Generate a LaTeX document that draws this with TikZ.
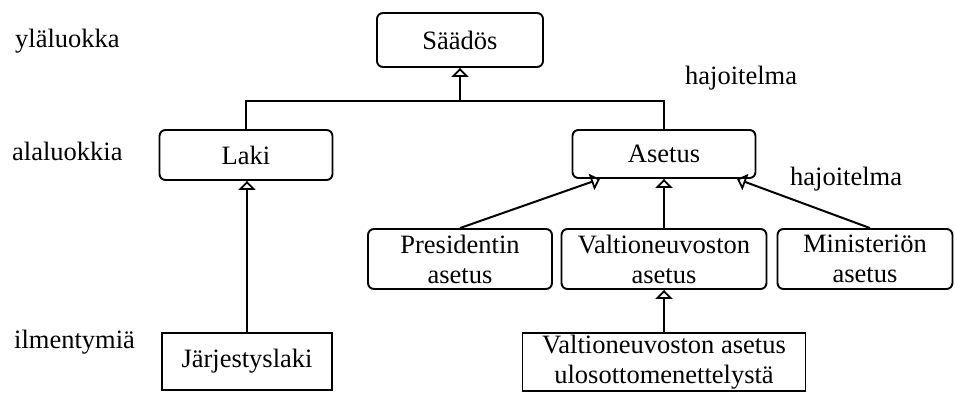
\documentclass[tikz,border=0pt]{standalone}
\usepackage{fontspec}
\setmainfont{Liberation Serif}
\usetikzlibrary{arrows.meta,calc}

\tikzset{
  umlbox/.style={draw, line width=1.9pt, rounded corners=6pt, inner sep=0pt,
    align=center, font=\fontsize{26.5}{30}\selectfont},
  instbox/.style={umlbox, rounded corners=0pt},
  lbl/.style={anchor=base west, inner sep=0pt, font=\fontsize{26.5}{30}\selectfont},
  link/.style={line width=2pt},
  gen/.style={link, -{Triangle[open, width=17pt, length=9pt, line width=1.8pt]}}
}

\begin{document}
\begin{tikzpicture}[x=1pt, y=-1pt]
\useasboundingbox (0,0) rectangle (955,397);

% class hierarchy
\node[umlbox, minimum width=166pt, minimum height=54pt] (saados) at (460,40) {Säädös};
\node[umlbox, minimum width=173pt, minimum height=50pt] (laki) at (246,155) {Laki};
\node[umlbox, minimum width=183pt, minimum height=48pt] (asetus) at (664,154) {Asetus};
\node[umlbox, minimum width=184pt, minimum height=60pt] (pres) at (460,259) {Presidentin\\asetus};
\node[umlbox, minimum width=205pt, minimum height=60pt] (valt) at (664,259) {Valtioneuvoston\\asetus};
\node[umlbox, minimum width=175pt, minimum height=60pt] (mini) at (865,259) {Ministeriön\\asetus};

% instances
\node[instbox, minimum width=170pt, minimum height=57pt] (jarj) at (247,361.5) {Järjestyslaki};
\node[instbox, minimum width=283pt, minimum height=58pt] (ulos) at (664,362) {Valtioneuvoston asetus\\ulosottomenettelystä};

% level labels
\node[lbl] (l1) at (15,47) {yläluokka};
\node[lbl] (l2) at (12,160) {alaluokkia};
\node[lbl] (l3) at (14,348) {ilmentymiä};
\node[lbl] (h1) at (685,84) {hajoitelma};
\node[lbl] (h2) at (790,185) {hajoitelma};

% generalisations
\coordinate (bus) at (saados.south |- 0,101);
\draw[link] (laki.north) |- (bus) -| (asetus.north);
\draw[gen] (bus) -- (saados.south);
\draw[gen] (jarj.north) -- (jarj.north |- laki.south);
\draw[gen] (pres.north) -- ($(asetus.south)+(-64,0)$);
\draw[gen] (valt.north) -- (asetus.south);
\draw[gen] ($(mini.north)+(5,0)$) -- ($(asetus.south)+(73,0)$);
\draw[gen] (ulos.north) -- (valt.south);
\end{tikzpicture}
\end{document}
